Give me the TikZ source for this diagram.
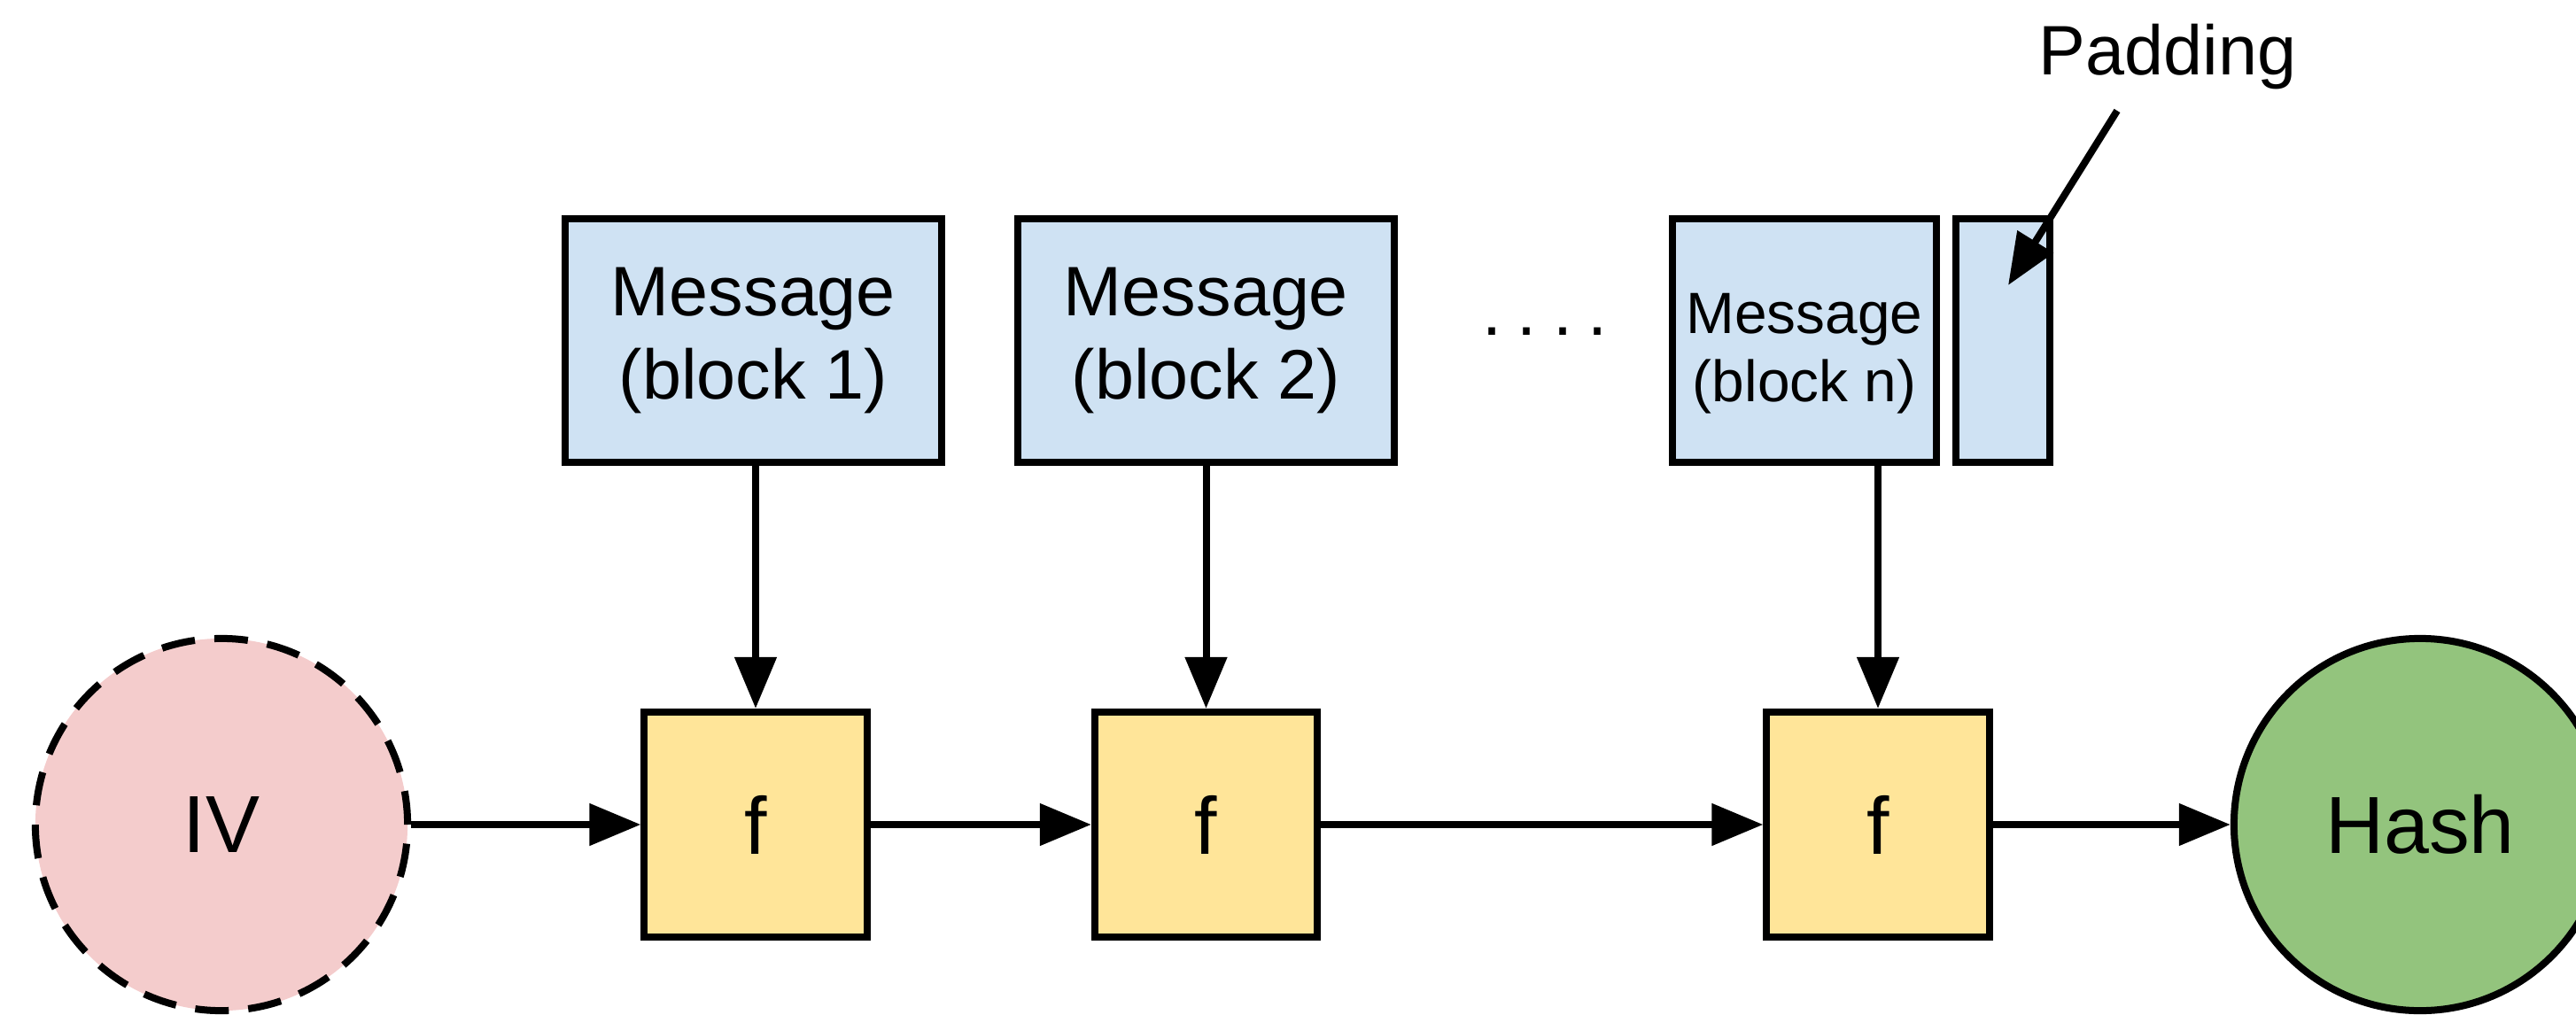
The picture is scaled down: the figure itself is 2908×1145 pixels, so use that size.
\documentclass[tikz,border=0pt]{standalone}
\usepackage{fontspec}
\setmainfont{Liberation Sans}
\usetikzlibrary{arrows.meta}
\definecolor{msgblue}{HTML}{CFE2F3}
\definecolor{fyellow}{HTML}{FFE599}
\definecolor{ivpink}{HTML}{F4CCCC}
\definecolor{hashgreen}{HTML}{93C47D}
\begin{document}
\begin{tikzpicture}[x=0.01cm,y=-0.01cm,line width=0.08cm,
  msg/.style={draw,fill=msgblue,minimum height=2.75cm,inner sep=0pt,align=center,
    font=\fontsize{22.5pt}{26.5pt}\selectfont},
  fbox/.style={draw,fill=fyellow,minimum width=2.51cm,minimum height=2.54cm,inner sep=0pt,
    font=\fontsize{26pt}{30pt}\selectfont},
  endpt/.style={circle,draw,minimum size=4.2cm,inner sep=0pt,
    font=\fontsize{26pt}{30pt}\selectfont},
  arr/.style={-{Triangle[length=0.58cm,width=0.46cm]}},
  smalltext/.style={align=center,inner sep=0pt,font=\fontsize{18.7pt}{21.9pt}\selectfont},
  labeltext/.style={inner sep=0pt,font=\fontsize{22.5pt}{26.5pt}\selectfont}
]
\useasboundingbox (0,0) rectangle (2908,1145);

% message blocks
\node[msg,minimum width=4.24cm] (m1) at (850.5,384.5) {Message\\(block 1)};
\node[msg,minimum width=4.24cm] (m2) at (1361.5,384.5) {Message\\(block 2)};
\node[msg,minimum width=2.98cm] (mn) at (2037,384.5) {};
\node[smalltext] (mntext) at (2037,399.5) {Message\\(block n)};
\node[msg,minimum width=1.06cm] (pad) at (2261,384.5) {};
\node[labeltext,anchor=base] (dots) at (1744,378) {.\hspace{0.18cm}.\hspace{0.18cm}.\hspace{0.18cm}.};
\node[labeltext,anchor=base] (padlabel) at (2447,84) {Padding};

% compression functions
\node[fbox] (f1) at (853,931) {f};
\node[fbox] (f2) at (1361.5,931) {f};
\node[fbox] (f3) at (2120,931) {f};

% IV and hash
\node[endpt,fill=ivpink,dash pattern=on 0.38cm off 0.22cm] (iv) at (250,931) {IV};
\node[endpt,fill=hashgreen] (hash) at (2732,931) {Hash};

% connectors
\draw[arr] (iv) -- (f1);
\draw[arr] (f1) -- (f2);
\draw[arr] (f2) -- (f3);
\draw[arr] (f3) -- (hash);
\draw[arr] (f1 |- m1.south) -- (f1);
\draw[arr] (f2 |- m2.south) -- (f2);
\draw[arr] (f3 |- mn.south) -- (f3);

\coordinate (padstart) at (2390,125);
\coordinate (padtip) at (2267,322);
\draw[arr] (padstart) -- (padtip);
\end{tikzpicture}
\end{document}
